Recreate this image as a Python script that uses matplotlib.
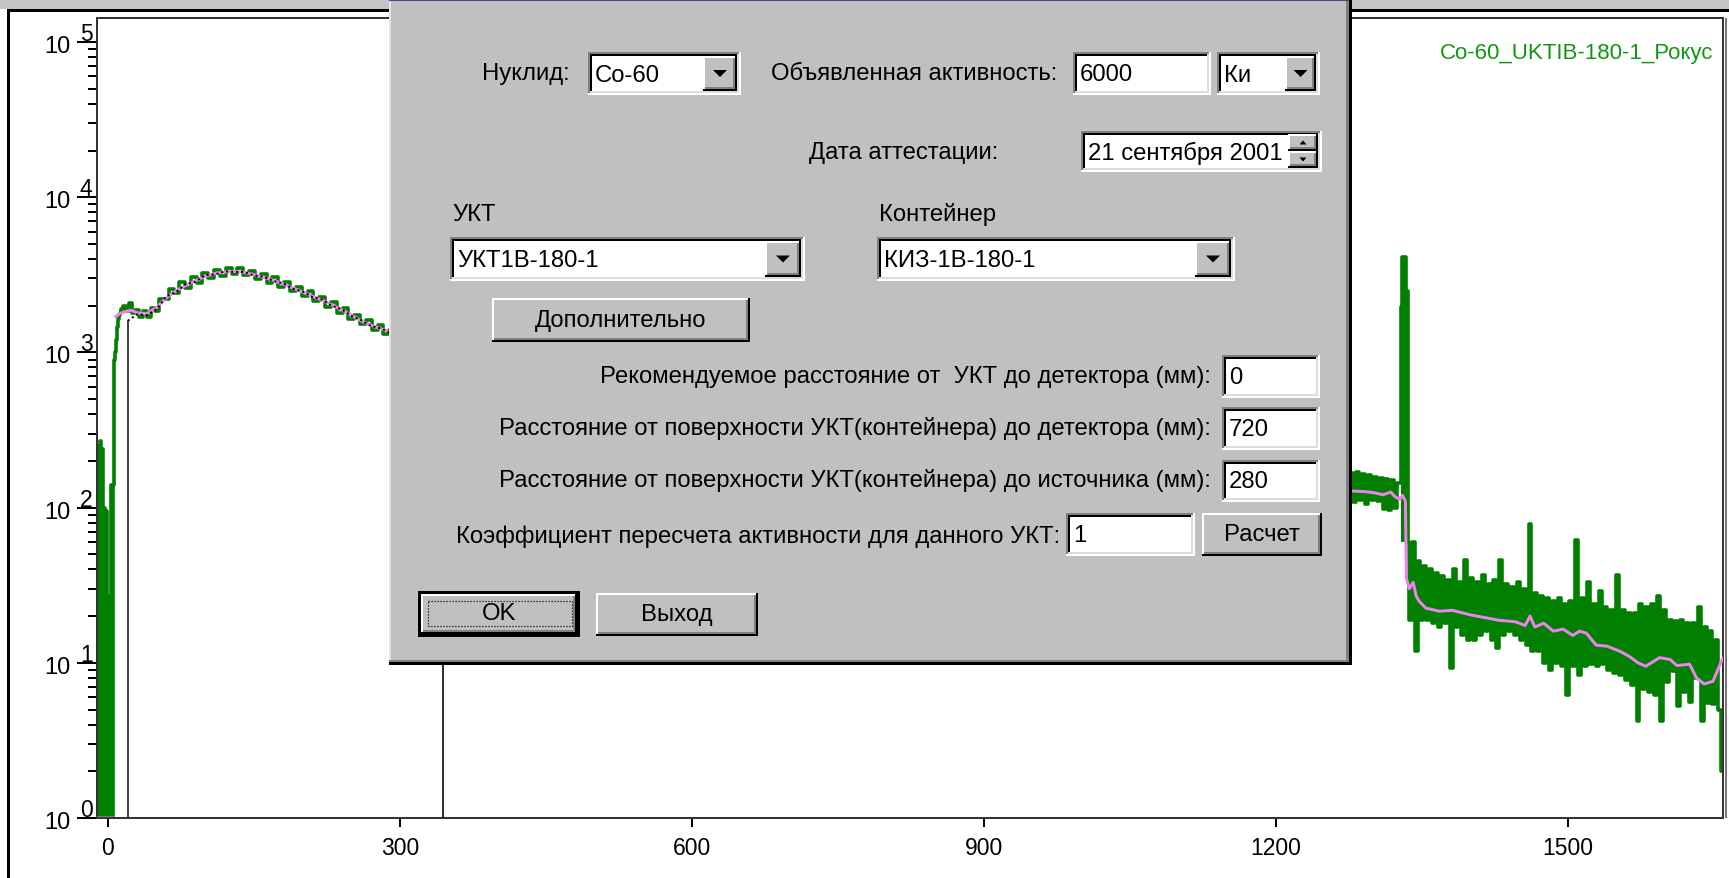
import numpy as np
import matplotlib
matplotlib.use("Agg")
import matplotlib.pyplot as plt
from matplotlib.patches import Rectangle, Polygon
from matplotlib.ticker import FixedLocator, LogLocator, NullFormatter, NullLocator

plt.rcParams['font.family'] = ['Liberation Sans', 'DejaVu Sans']

W, H = 1729, 879
FS = 17.2

# ---- spectrum data (energy channel, counts) ----
low_ch = [-11, -10, -9, -8, -7, -6, -5, -4, -3, -2, -1, 0, 1, 2, 3, 4, 5, 6, 7, 8, 9, 10, 11, 12, 13]
low_counts = [0.5, 250, 0.5, 270, 0.5, 240, 0.5, 100, 0.5, 95, 0.5, 27, 0.5, 11, 0.5,
              140, 0.5, 140, 900, 1000, 1200, 1450, 1650, 1750, 1800]

left_ch = [14, 17, 20, 23, 26, 30, 34, 38, 42, 46, 50, 55, 60, 65, 70, 76, 82, 88, 94, 100,
           106, 112, 118, 124, 130, 136, 142, 148, 154, 160, 166, 172, 178, 184, 190, 196,
           202, 208, 214, 220, 226, 232, 238, 244, 250, 256, 262, 268, 274, 280, 286, 292]
left_counts = [1900, 1980, 1850, 2080, 1800, 1880, 1680, 1860, 1700, 1930, 1850, 2200, 2200,
               2580, 2420, 2850, 2620, 3050, 2820, 3250, 3000, 3400, 3120, 3480, 3200, 3480,
               3150, 3350, 2980, 3200, 2820, 3050, 2640, 2830, 2480, 2650, 2300, 2480, 2160,
               2280, 1960, 2100, 1800, 1930, 1650, 1750, 1520, 1610, 1400, 1500, 1320, 1400]

# part of the spectrum hidden behind the dialog (rough estimate)
hidden_ch = [320, 400, 500, 600, 700, 800, 900, 1000, 1100, 1200, 1250]
hidden_counts = [1250, 1000, 760, 560, 440, 360, 300, 250, 210, 180, 160]

# right part before the 1332 peak, every 3rd channel from 1278
pre_start = 1278
pre_counts = [168, 108, 170, 112, 165, 105, 162, 112, 158, 110,
              155, 98, 152, 96, 150, 100, 145]

# 1332 keV peak, channel by channel
peak_ch = [1328, 1329, 1330, 1331, 1332, 1333, 1334, 1335, 1336]
peak_counts = [145, 1950, 4150, 4150, 4150, 4150, 2500, 2500, 60]
peak_base = 60

# after the peak, every 3rd channel from 1338
post_start = 1338
post_counts = [19, 60, 12, 45, 19, 42, 19, 40, 18, 38,
               17, 36, 18, 34, 9.3, 40, 17, 33, 15, 46,
               14, 35, 14, 33, 15, 37, 16, 32, 14, 34,
               12.4, 46, 15, 32, 16, 31, 15, 33, 14, 30,
               13, 79, 12, 28, 12, 27, 10, 26, 9, 25,
               10, 26, 9.5, 24, 6.2, 25, 9.5, 62, 8.3, 26,
               9.5, 33, 9.8, 24, 9.5, 29, 9.8, 23, 9.0, 22,
               8.6, 37, 8.3, 22, 7.8, 21, 7.2, 21, 4.2, 24,
               6.8, 23, 6.5, 24, 6.2, 27, 4.2, 22, 7.5, 19,
               8.9, 18.7, 5.3, 19, 6.5, 18, 5.6, 18, 8, 23,
               4.2, 17, 5.5, 16, 5.4, 14, 5.0, 2.0]
step = 3
pre_ch = pre_start + step * np.arange(len(pre_counts))
post_ch = post_start + step * np.arange(len(post_counts))

# smoothed spectrum (violet)
pink_ch = [-11, 5, 6, 8, 12, 20, 24, 30, 40, 50,
           60, 70, 80, 90, 100, 110, 120, 130, 140, 150,
           160, 170, 180, 190, 200, 210, 220, 230, 240, 250,
           260, 270, 280, 290, 400, 600, 800, 1000, 1200,
           1278, 1290, 1300, 1310, 1318, 1322, 1327, 1330, 1333, 1334,
           1337, 1341, 1344, 1347, 1354, 1368, 1381, 1401, 1429, 1446,
           1456, 1461, 1466, 1475, 1485, 1495, 1505, 1512, 1519, 1529,
           1540, 1553, 1563, 1572, 1580, 1594, 1605, 1612, 1625, 1632,
           1640, 1649, 1659]
pink_counts = [1, 1, np.nan, 1700, 1780, 1850, 1870, 1800, 1780, 1950,
               2250, 2500, 2700, 2900, 3100, 3230, 3300, 3330, 3280, 3170,
               3050, 2920, 2760, 2600, 2450, 2300, 2170, 2030, 1880, 1740,
               1600, 1500, 1420, 1360, 980, 550, 350, 245, 175,
               128, 127, 125, 121, 126, 118, 113, 120, 110, 35,
               30, 33, 27, 25, 22.5, 21.5, 21.8, 20.3, 18.8, 18.4,
               17.4, 20, 17, 18, 16, 16.5, 15, 16, 15.5, 13,
               12.8, 11.9, 11, 10, 9.5, 10.8, 10.5, 9.6, 9.8, 8,
               7.3, 7.6, 10.7]

# background / fit curve (black)
black_ch = [-11, 20.4, 20.4, 30, 40, 50, 60, 70, 80, 90, 100, 110, 120, 130, 140, 150,
            160, 170, 180, 190, 200, 210, 220, 230, 240, 250, 260, 270, 280, 290]
black_counts = [1, 1, 1600, 1760, 1740, 1900, 2300, 2450, 2760, 2850, 3150, 3180, 3330, 3300,
                3300, 3130, 3080, 2880, 2790, 2570, 2470, 2270, 2190, 2000, 1900, 1720, 1620,
                1480, 1430, 1340]

cursor_ch = 344
x_ticks = [0, 300, 600, 900, 1200, 1500]
decades = [0, 1, 2, 3, 4, 5]
title = "Co-60_UKTIB-180-1_Рокус"
GREEN = '#007f00'


def px(v):
    # pixels -> points at dpi 100
    return v * 0.72


fig = plt.figure(figsize=(W / 100, H / 100), dpi=100)
fig.patch.set_facecolor('white')

ax = fig.add_axes([97 / W, (H - 819) / H, (1723 - 97) / W, (819 - 19) / H])
ax.set_zorder(1)

green_ch = np.concatenate([low_ch, left_ch, hidden_ch, pre_ch, peak_ch, post_ch])
green_counts = np.concatenate([low_counts, left_counts, hidden_counts, pre_counts,
                               peak_counts, post_counts])

ax.plot(green_ch, green_counts, color=GREEN, lw=px(3.6), drawstyle='steps-mid', zorder=2)
ax.fill_between(peak_ch, peak_counts, peak_base, step='mid', color=GREEN, lw=0, zorder=2)
ax.plot(pink_ch, pink_counts, color='#ee82ee', lw=px(3), zorder=3)
ax.plot(black_ch[:3], black_counts[:3], color='#303030', lw=px(1.8), zorder=4)
ax.plot(black_ch[2:], black_counts[2:], color='black', lw=px(2), ls=(0, (1, 1.5)), zorder=4)
ax.axvline(cursor_ch, color='black', lw=px(1.6), zorder=4)

ax.set_yscale('log')
ax.set_ylim(1, 10 ** 5.155)
ax.set_xlim(-11.3, 1659.3)

ax.yaxis.set_major_locator(FixedLocator([10.0 ** k for k in decades]))
ax.yaxis.set_minor_locator(LogLocator(base=10, subs=np.arange(2, 10)))
ax.yaxis.set_minor_formatter(NullFormatter())
ax.tick_params(axis='y', which='major', length=px(20), width=px(2), labelleft=False)
ax.tick_params(axis='y', which='minor', length=px(9), width=px(2))

ax.set_xticks(x_ticks)
ax.xaxis.set_minor_locator(NullLocator())
ax.tick_params(axis='x', length=px(9), width=px(2), labelsize=16.5, pad=px(9))

for s in ax.spines.values():
    s.set_linewidth(px(2))
    s.set_color('#333333')

for k in decades:
    ax.annotate('10', xy=(0, 10.0 ** k), xycoords=ax.get_yaxis_transform(),
                xytext=(-27, -10), textcoords='offset pixels', ha='right', va='baseline',
                fontsize=17, annotation_clip=False)
    ax.annotate(str(k), xy=(0, 10.0 ** k), xycoords=ax.get_yaxis_transform(),
                xytext=(-17, 2), textcoords='offset pixels', ha='left', va='baseline',
                fontsize=16.5, annotation_clip=False)

ax.text(0.9938, 0.9575, title, transform=ax.transAxes, ha='right', va='center',
        color='#129612', fontsize=16)

# ---- window chrome and dialog, in pixel coordinates ----
ui = fig.add_axes([0, 0, 1, 1])
ui.set_zorder(5)
ui.set_xlim(0, W)
ui.set_ylim(H, 0)
ui.axis('off')


def box(x0, y0, x1, y1, color):
    ui.add_patch(Rectangle((x0, y0), x1 - x0, y1 - y0, facecolor=color, edgecolor='none', lw=0))


def sunken(x0, y0, x1, y1):
    box(x0, y0, x1, y1, 'white')
    box(x0, y0, x1, y0 + 2, '#808080')
    box(x0, y0, x0 + 2, y1, '#808080')
    box(x0 + 2, y0 + 2, x1 - 2, y0 + 4, 'black')
    box(x0 + 2, y0 + 2, x0 + 4, y1 - 2, 'black')
    box(x0, y1 - 2, x1, y1, 'white')
    box(x1 - 2, y0, x1, y1, 'white')
    box(x0 + 2, y1 - 4, x1 - 2, y1 - 2, '#dcdcdc')
    box(x1 - 4, y0 + 2, x1 - 2, y1 - 2, '#dcdcdc')


def raised(x0, y0, x1, y1):
    box(x0, y0, x1, y1, '#c0c0c0')
    box(x0, y0, x1, y0 + 2, 'white')
    box(x0, y0, x0 + 2, y1, 'white')
    box(x0, y1 - 2, x1, y1, 'black')
    box(x1 - 2, y0, x1, y1, 'black')
    box(x0 + 2, y1 - 4, x1 - 2, y1 - 2, '#808080')
    box(x1 - 4, y0 + 2, x1 - 2, y1 - 2, '#808080')


def arrow(cx, cy, w, h, up=False):
    s = -1 if up else 1
    ui.add_patch(Polygon([[cx - w / 2, cy - s * h / 2], [cx + w / 2, cy - s * h / 2], [cx, cy + s * h / 2]],
                         closed=True, facecolor='black', edgecolor='none'))


def label(x, y, s, ha='left', size=FS):
    ui.text(x, y, s, ha=ha, va='center', fontsize=size, color='black')


def combo(x0, y0, x1, y1, text, bw=34):
    sunken(x0, y0, x1, y1)
    raised(x1 - 4 - bw, y0 + 4, x1 - 4, y1 - 4)
    arrow(x1 - 4 - bw / 2, (y0 + y1) / 2, 14, 7)
    label(x0 + 7, (y0 + y1) / 2 + 1, text)


def button(x0, y0, x1, y1, text):
    raised(x0, y0, x1, y1)
    label((x0 + x1) / 2, (y0 + y1) / 2, text, ha='center')


# window frame
box(0, 0, W, 10, '#c4c4c4')
box(7, 10, W, 13, 'black')
box(7, 10, 10, H, 'black')
box(1725, 19, 1727, 819, '#777777')

# dialog body
box(389, 0, 1352, 665, '#c0c0c0')
box(389, 0, 1352, 2, '#3c4c9c')
box(389, 2, 391, 665, '#e4e4e4')
box(389, 661, 1350, 663, '#808080')
box(389, 663, 1352, 666, 'black')
box(1346, 2, 1349, 663, '#808080')
box(1349, 0, 1352, 666, 'black')

label(570, 74, 'Нуклид:', ha='right')
combo(588, 53, 741, 96, 'Co-60')
label(1057, 74, 'Объявленная активность:', ha='right')
sunken(1073, 53, 1211, 96)
label(1080, 75, '6000')
combo(1217, 53, 1320, 96, 'Ки', bw=31)

label(998, 153, 'Дата аттестации:', ha='right')
sunken(1081, 132, 1322, 173)
label(1088, 153, '21 сентября 2001')
raised(1288, 135, 1318, 152)
raised(1288, 152, 1318, 169)
arrow(1303, 143.5, 7, 4, up=True)
arrow(1303, 160.5, 7, 4)

label(452, 215, 'УКТ')
label(879, 215, 'Контейнер')
combo(450, 238, 805, 282, 'УКТ1В-180-1', bw=36)
combo(877, 238, 1235, 282, 'КИЗ-1В-180-1', bw=36)

button(492, 299, 750, 343, 'Дополнительно')

label(1211, 377, 'Рекомендуемое расстояние от  УКТ до детектора (мм):', ha='right')
sunken(1222, 356, 1320, 399)
label(1229, 378, '0')
label(1211, 429, 'Расстояние от поверхности УКТ(контейнера) до детектора (мм):', ha='right')
sunken(1222, 408, 1320, 451)
label(1229, 430, '720')
label(1211, 481, 'Расстояние от поверхности УКТ(контейнера) до источника (мм):', ha='right')
sunken(1222, 461, 1320, 503)
label(1229, 482, '280')

label(1060, 537, 'Коэффициент пересчета активности для данного УКТ:', ha='right')
sunken(1066, 514, 1195, 557)
label(1073, 536, '1')
button(1202, 514, 1322, 557, 'Расчет')

# OK (default button) and Exit
box(418, 592, 580, 638, 'black')
raised(421, 595, 577, 635)
ui.add_patch(Rectangle((428, 602), 144, 25, facecolor='none', edgecolor='black',
                       lw=px(1.2), ls=(0, (1, 1.5))))
label(499, 614, 'OK', ha='center')
button(596, 594, 758, 637, 'Выход')

fig.savefig('out.png', dpi=100)
